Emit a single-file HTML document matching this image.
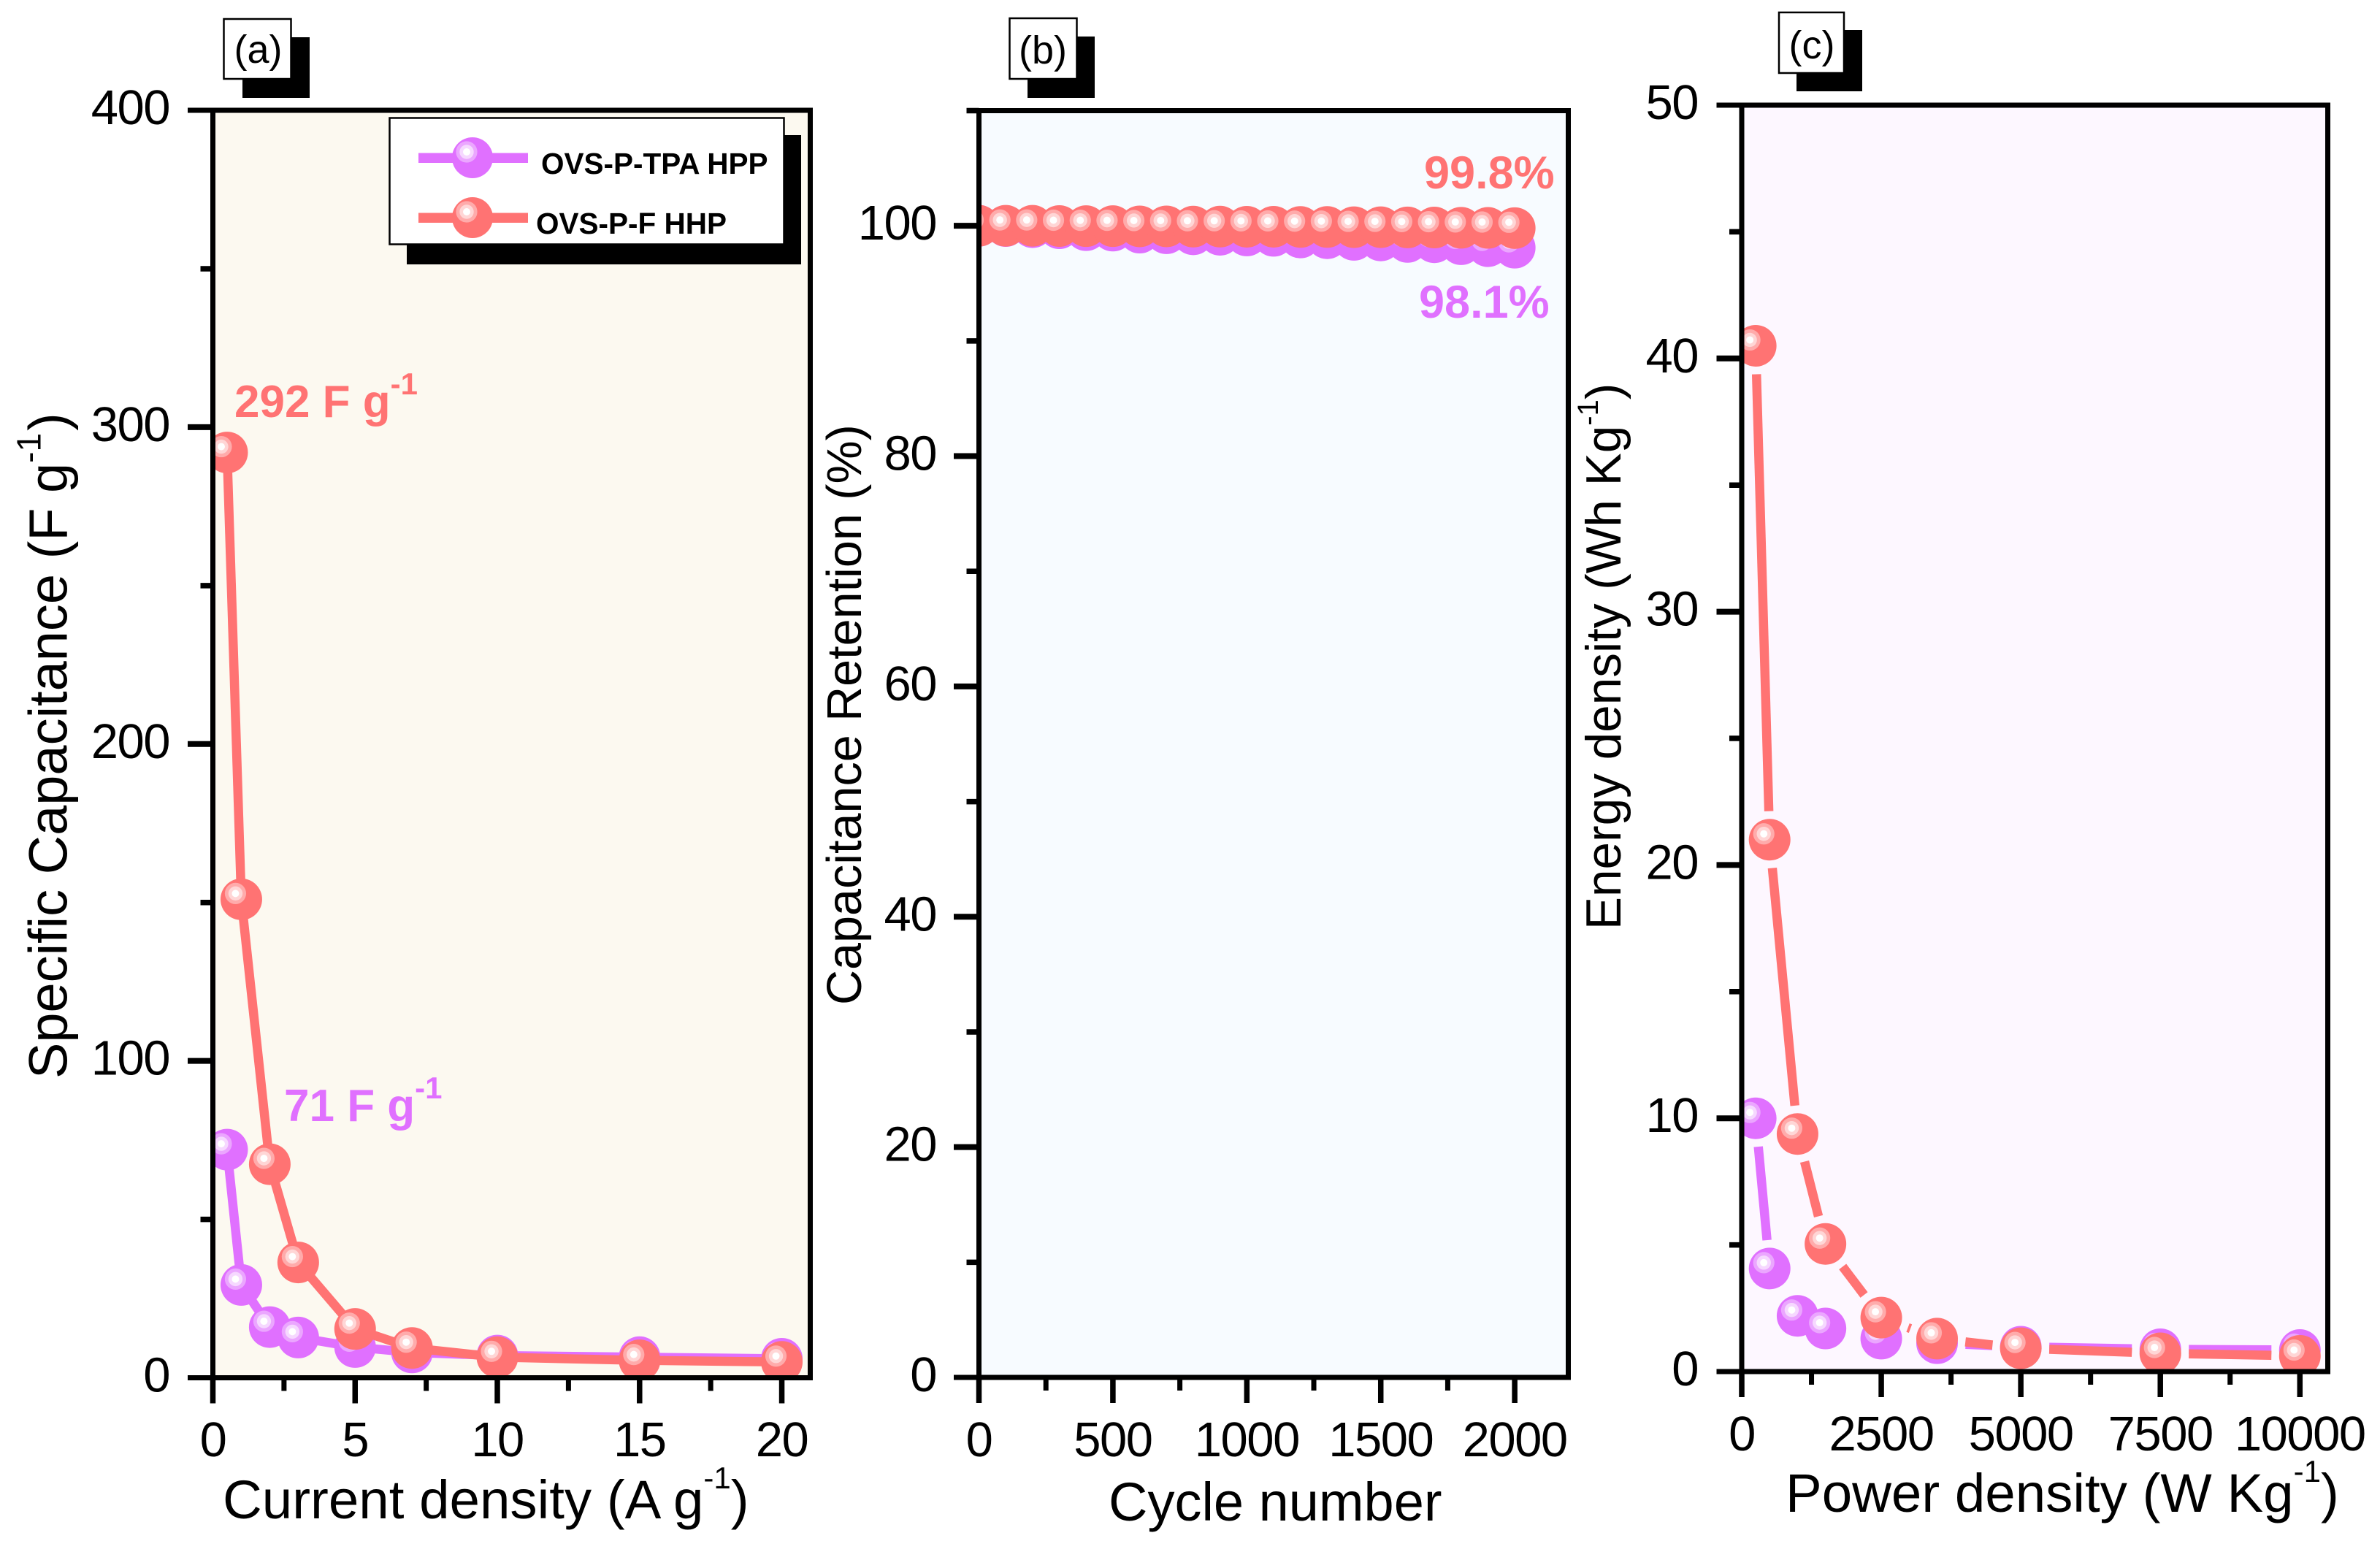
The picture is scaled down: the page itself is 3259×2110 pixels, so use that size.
<!DOCTYPE html>
<html lang="en">
<head>
<meta charset="utf-8">
<title>Supercapacitor performance panels</title>
<style>
html,body{margin:0;padding:0;background:#fff;width:3259px;height:2110px;overflow:hidden}
svg{display:block}
text{font-family:"Liberation Sans",sans-serif;fill:#000}
.tick{font-size:67px;letter-spacing:-1.5px}
.title{font-size:74px}
.note{font-size:62px;font-weight:bold}
.tag{font-size:54px}
.leg{font-size:40.5px;font-weight:bold}
.red{fill:#FF7373}
.pur{fill:#E070FF}
</style>
</head>
<body>
<svg id="fig" xmlns="http://www.w3.org/2000/svg" width="3259" height="2110" viewBox="0 0 3259 2110">
  <g id="layer-a"></g>
  <g id="layer-b"></g>
  <g id="layer-c"></g>

  <g>
    <rect x="332" y="51" width="92" height="83" fill="#000"/>
    <rect x="306.5" y="26" width="92" height="82" fill="#fff" stroke="#000" stroke-width="2.5"/>
    <text class="tag" x="353.5" y="86" text-anchor="middle">(a)</text>
  </g>
  <g>
    <rect x="1407" y="50" width="92" height="84" fill="#000"/>
    <rect x="1382.5" y="25" width="92" height="83" fill="#fff" stroke="#000" stroke-width="2.5"/>
    <text class="tag" x="1428" y="87" text-anchor="middle">(b)</text>
  </g>
  <g>
    <rect x="2460" y="41" width="90" height="84" fill="#000"/>
    <rect x="2436" y="17" width="89" height="83" fill="#fff" stroke="#000" stroke-width="2.5"/>
    <text class="tag" x="2481" y="80" text-anchor="middle">(c)</text>
  </g>

  <text class="title" transform="rotate(-90 91.5 1477)" x="91.5" y="1477">Specific Capacitance (F g<tspan font-size="46" dy="-36">-1</tspan><tspan dy="36" dx="3">)</tspan></text>
  <text class="title" style="font-size:74.5px" x="305" y="2079">Current density (A g<tspan font-size="42" dy="-41">-1</tspan><tspan dy="41">)</tspan></text>
  <text class="title" style="font-size:66.5px" transform="rotate(-90 1179 1376)" x="1179" y="1376">Capacitance Retention (%)</text>
  <text class="title" x="1518" y="2082">Cycle number</text>
  <text class="title" style="font-size:67.5px" transform="rotate(-90 2219 1273)" x="2219" y="1273">Energy density (Wh Kg<tspan font-size="40" dy="-31">-1</tspan><tspan dy="31">)</tspan></text>
  <text class="title" style="font-size:74.5px" x="2445" y="2070">Power density (W Kg<tspan font-size="42" dy="-41">-1</tspan><tspan dy="41">)</tspan></text>

  <text class="note red" x="321" y="571">292 F g<tspan font-size="42" dy="-31">-1</tspan></text>
  <text class="note pur" x="389" y="1535">71 F g<tspan font-size="42" dy="-31">-1</tspan></text>
  <text class="note red" style="font-size:63px" x="1950" y="258">99.8%</text>
  <text class="note pur" style="font-size:63px" x="1943" y="435">98.1%</text>

  <g>
    <rect x="557" y="185" width="540" height="177" fill="#000"/>
    <rect x="533.5" y="161.5" width="540" height="173" fill="#fff" stroke="#000" stroke-width="2.5"/>
    <g>
      <rect x="573" y="209.5" width="150" height="13.5" fill="#E070FF"/>
      <circle cx="647" cy="216" r="28" fill="#E070FF"/>
      <circle cx="639" cy="208" r="14.6" fill="#EBA6FF"/>
      <circle cx="639" cy="208" r="9.7" fill="#F6D8FF"/>
      <circle cx="639" cy="208" r="5" fill="#fff"/>
      <text class="leg" x="741" y="238">OVS-P-TPA HPP</text>
    </g>
    <g>
      <rect x="573" y="291.5" width="150" height="13.5" fill="#FF7373"/>
      <circle cx="647" cy="298" r="28" fill="#FF7373"/>
      <circle cx="639" cy="290" r="14.6" fill="#FFABAB"/>
      <circle cx="639" cy="290" r="9.7" fill="#FFD6D6"/>
      <circle cx="639" cy="290" r="5" fill="#fff"/>
      <text class="leg" x="734" y="320">OVS-P-F HHP</text>
    </g>
  </g>
</svg>
<script>
// Panel (a): specific capacitance vs current density
const currentDensity = [0.5, 1, 2, 3, 5, 7, 10, 15, 20];
const capacitanceHpp = [72, 29.3, 16, 12.7, 9.7, 8, 7, 6.5, 6];
const capacitanceHhp = [292, 151, 67.4, 36.4, 15.4, 9.4, 6.5, 5.5, 5];
const aXTicks = [0, 5, 10, 15, 20];
const aXMinor = [2.5, 7.5, 12.5, 17.5];
const aYTicks = [0, 100, 200, 300, 400];
const aYMinor = [50, 150, 250, 350];

// Panel (b): capacitance retention vs cycle number
const cycleNumber = [0, 100, 200, 300, 400, 500, 600, 700, 800, 900, 1000, 1100, 1200, 1300, 1400, 1500, 1600, 1700, 1800, 1900, 2000];
const retentionHpp = [100, 99.98, 99.88, 99.79, 99.62, 99.58, 99.41, 99.35, 99.26, 99.22, 99.16, 99.13, 98.99, 98.92, 98.78, 98.73, 98.6, 98.57, 98.4, 98.23, 98.1];
const retentionHhp = [100, 100, 100, 99.98, 99.97, 99.97, 99.95, 99.95, 99.93, 99.93, 99.92, 99.92, 99.9, 99.9, 99.88, 99.88, 99.86, 99.85, 99.83, 99.82, 99.8];
const bXTicks = [0, 500, 1000, 1500, 2000];
const bXMinor = [250, 750, 1250, 1750];
const bYTicks = [0, 20, 40, 60, 80, 100];
const bYMinor = [10, 30, 50, 70, 90, 110];

// Panel (c): energy density vs power density
const powerDensity = [250, 500, 1000, 1500, 2500, 3500, 5000, 7500, 10000];
const energyHpp = [10, 4.07, 2.2, 1.7, 1.3, 1.12, 0.98, 0.88, 0.85];
const energyHhp = [40.5, 21, 9.38, 5.04, 2.13, 1.3, 0.92, 0.72, 0.62];
const cXTicks = [0, 2500, 5000, 7500, 10000];
const cXMinor = [1250, 3750, 6250, 8750];
const cYTicks = [0, 10, 20, 30, 40, 50];
const cYMinor = [5, 15, 25, 35, 45];

const NS = 'http://www.w3.org/2000/svg';
const RED = '#FF7373', PUR = '#E070FF';

function make(parent, tag, attrs) {
  const el = document.createElementNS(NS, tag);
  for (const k in attrs) el.setAttribute(k, attrs[k]);
  parent.appendChild(el);
  return el;
}

function drawSeries(g, id, key, xs, ys, sx, sy, color, ring, sheen, gap) {
  for (let i = 0; i + 1 < xs.length; i++) {
    let x1 = sx(xs[i]), y1 = sy(ys[i]), x2 = sx(xs[i + 1]), y2 = sy(ys[i + 1]);
    const d = Math.hypot(x2 - x1, y2 - y1);
    if (d <= 2 * gap) continue;
    const ux = (x2 - x1) / d, uy = (y2 - y1) / d;
    const seg = make(g, 'line', {x1: x1 + ux * gap, y1: y1 + uy * gap, x2: x2 - ux * gap, y2: y2 - uy * gap, stroke: color, 'stroke-width': 12.5});
    
    
  }
  xs.forEach(function (v, i) {
    const cx = sx(v), cy = sy(ys[i]);
    const m = make(g, 'g', {});
    
    
    make(m, 'circle', {cx: cx, cy: cy, r: 28.5, fill: color});
    make(m, 'circle', {cx: cx - 8, cy: cy - 8, r: 14.6, fill: ring});
    make(m, 'circle', {cx: cx - 8, cy: cy - 8, r: 9.7, fill: sheen});
    make(m, 'circle', {cx: cx - 8, cy: cy - 8, r: 5, fill: '#fff'});
  });
}

function drawPanel(o) {
  const g = document.getElementById(o.layer);
  const sx = function (v) { return o.left + (v - 0) / o.xMax * (o.right - o.left); };
  const sy = function (v) { return o.bottom - (v - 0) / o.yMax * (o.bottom - o.top); };

  const bg = make(g, 'rect', {x: o.left, y: o.top, width: o.right - o.left, height: o.bottom - o.top, fill: o.bg});
  
  

  const clipId = o.id + '-clip';
  const defs = make(g, 'defs', {});
  const clip = make(defs, 'clipPath', {id: clipId});
  make(clip, 'rect', {x: o.left, y: o.top, width: o.right - o.left, height: o.bottom - o.top});

  const marks = make(g, 'g', {'clip-path': 'url(#' + clipId + ')'});
  
  
  drawSeries(marks, o.id, 'hpp', o.xs, o.hpp, sx, sy, PUR, '#EBA6FF', '#F6D8FF', o.gap);
  drawSeries(marks, o.id, 'hhp', o.xs, o.hhp, sx, sy, RED, '#FFABAB', '#FFD6D6', o.gap);

  const frame = make(g, 'rect', {x: o.left, y: o.top, width: o.right - o.left, height: o.bottom - o.top, fill: 'none', stroke: '#000', 'stroke-width': 7, 'stroke-linejoin': 'miter'});
  
  

  o.xTicks.forEach(function (v) {
    const x = sx(v);
    const t = make(g, 'line', {x1: x, y1: o.bottom, x2: x, y2: o.bottom + 35, stroke: '#000', 'stroke-width': 7.5});
    
    
    const l = make(g, 'text', {x: x, y: o.xLabelY, 'text-anchor': 'middle', class: 'tick'});
    l.textContent = String(v);
    
    
  });
  o.xMinor.forEach(function (v) {
    const x = sx(v);
    const t = make(g, 'line', {x1: x, y1: o.bottom, x2: x, y2: o.bottom + 18, stroke: '#000', 'stroke-width': 7});
    
    
  });
  o.yTicks.forEach(function (v) {
    const y = sy(v);
    const t = make(g, 'line', {x1: o.left - 34.5, y1: y, x2: o.left, y2: y, stroke: '#000', 'stroke-width': (y === o.bottom || y === o.top) ? 7 : 8});
    
    
    const l = make(g, 'text', {x: o.yLabelX, y: y + 19, 'text-anchor': 'end', class: 'tick'});
    l.textContent = String(v);
    
    
  });
  o.yMinor.forEach(function (v) {
    const y = sy(v);
    const t = make(g, 'line', {x1: o.left - 17, y1: y, x2: o.left, y2: y, stroke: '#000', 'stroke-width': 7.5});
    
    
  });
}

drawPanel({layer: 'layer-a', id: 'panel-a', left: 291.5, right: 1109.5, top: 151, bottom: 1886.5, xMax: 21, yMax: 400, bg: '#FCF9F0', gap: 0, xs: currentDensity, hpp: capacitanceHpp, hhp: capacitanceHhp, xTicks: aXTicks, xMinor: aXMinor, yTicks: aYTicks, yMinor: aYMinor, xLabelY: 1994, yLabelX: 232});
drawPanel({layer: 'layer-b', id: 'panel-b', left: 1340.5, right: 2147.5, top: 151.5, bottom: 1886, xMax: 2200, yMax: 110, bg: '#F7FBFF', gap: 0, xs: cycleNumber, hpp: retentionHpp, hhp: retentionHhp, xTicks: bXTicks, xMinor: bXMinor, yTicks: bYTicks, yMinor: bYMinor, xLabelY: 1994, yLabelX: 1282});
drawPanel({layer: 'layer-c', id: 'panel-c', left: 2385, right: 3187.5, top: 144, bottom: 1878, xMax: 10500, yMax: 50, bg: '#FDF7FF', gap: 39, xs: powerDensity, hpp: energyHpp, hhp: energyHhp, xTicks: cXTicks, xMinor: cXMinor, yTicks: cYTicks, yMinor: cYMinor, xLabelY: 1986, yLabelX: 2325});
</script>
</body>
</html>
